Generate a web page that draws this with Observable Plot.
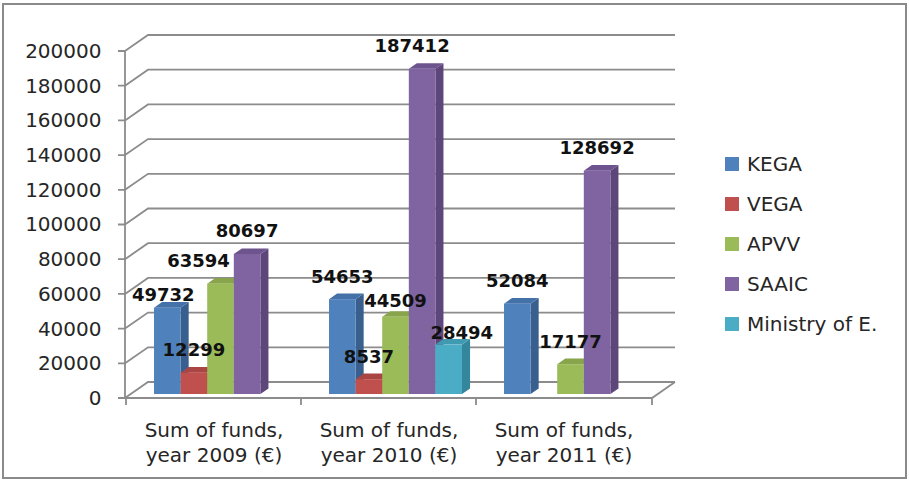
<!DOCTYPE html>
<html>
<head>
<meta charset="utf-8">
<script src="https://cdn.jsdelivr.net/npm/d3@7"></script>
<script src="https://cdn.jsdelivr.net/npm/@observablehq/plot@0.6"></script>
<style>
  body { margin: 0; background: #fff; }
  #chart { position: relative; width: 909px; height: 480px; font-family: "DejaVu Sans", sans-serif; }
  #chart svg { position: absolute; left: 0; top: 0; }
  #border { position: absolute; left: 2px; top: 3px; width: 905px; height: 476px; border: 2px solid #8a8a8a; box-sizing: border-box; pointer-events: none; }
  #legend { position: absolute; left: 725px; top: 144px; }
  .row { display: flex; align-items: center; height: 40px; font-size: 20px; color: #262626; white-space: nowrap; }
  .sw { width: 14px; height: 14px; margin-right: 8px; flex: none; }
</style>
</head>
<body>
<div id="chart"><div id="border"></div></div>
<script>
// Funding by source and year (€)
const categories = ["Sum of funds,\nyear 2009 (€)", "Sum of funds,\nyear 2010 (€)", "Sum of funds,\nyear 2011 (€)"];
const series = ["KEGA", "VEGA", "APVV", "SAAIC", "Ministry of E."];
const kega     = [49732, 54653, 52084];
const vega     = [12299, 8537, null];
const apvv     = [63594, 44509, 17177];
const saaic    = [80697, 187412, 128692];
const ministry = [null, 28494, null];
const yTicks = [0, 20000, 40000, 60000, 80000, 100000, 120000, 140000, 160000, 180000, 200000];

// Face shading for each series: front, side, top
const frontColors = ["#4f81bd", "#c0504d", "#9bbb59", "#8064a2", "#4bacc6"];
const sideColors  = ["#395f8e", "#933b39", "#789443", "#5d4679", "#33869c"];
const topColors   = ["#4472a8", "#a94542", "#88a54c", "#6d548e", "#3f9ab2"];

// Small nudges for value labels that the chart shifts to avoid overlaps
const labelNudge = { "49732": [-4, 10], "63594": [-22, 0], "44509": [0, 7], "187412": [-10, 0], "28494": [13, 11] };

const valuesBySeries = [kega, vega, apvv, saaic, ministry];
const rows = [];
categories.forEach((c, i) => {
  series.forEach((s, j) => {
    const v = valuesBySeries[j][i];
    if (v != null) rows.push({ category: c, series: s, value: v, k: j });
  });
});

// Oblique projection of the depth axis (pixels for the full depth of the floor)
const DEPTH = [23, -16];
const BAR_FRONT = 0.25, BAR_BACK = 0.6;

const innerBand = (x) =>
  d3.scaleBand(series, [0, x.bandwidth()]).paddingInner(0).paddingOuter(0.79).align(0.53);

// Back wall gridlines, side-wall diagonals, floor and axis ticks
const frame3d = Plot.ruleY(yTicks, {
  y: (d) => d,
  render(index, scales, values, dims) {
    const { x, y } = scales;
    const xl = dims.marginLeft, xr = dims.width - dims.marginRight;
    const [dx, dy] = DEPTH;
    const p = d3.path();
    for (const i of index) {
      const yy = y(yTicks[i]);
      p.moveTo(xl - 7, yy); p.lineTo(xl, yy);
      p.moveTo(xl, yy); p.lineTo(xl + dx, yy + dy); p.lineTo(xr + dx, yy + dy);
    }
    const y0 = y(0), yTop = y(yTicks[yTicks.length - 1]);
    p.moveTo(xl, yTop); p.lineTo(xl, y0);
    p.moveTo(xl, y0); p.lineTo(xr, y0); p.lineTo(xr + dx, y0 + dy);
    for (const c of categories) { const xb = x(c); p.moveTo(xb, y0); p.lineTo(xb, y0 + 7); }
    p.moveTo(xr, y0); p.lineTo(xr, y0 + 7);
    return d3.create("svg:path")
      .attr("d", p.toString())
      .attr("fill", "none")
      .attr("stroke", "#8c8c8c")
      .attr("stroke-width", 1.8)
      .node();
  }
});

// 3D columns: side and top faces first, then the front face
const bars3d = Plot.barY(rows, {
  x: "category", y1: 0, y2: "value",
  render(index, scales) {
    const { x, y } = scales;
    const inner = innerBand(x);
    const [dx, dy] = DEPTH;
    const ox = dx * BAR_FRONT, oy = dy * BAR_FRONT;
    const sx = dx * (BAR_BACK - BAR_FRONT), sy = dy * (BAR_BACK - BAR_FRONT);
    const g = d3.create("svg:g");
    const sorted = Array.from(index).sort((a, b) => (x(rows[a].category) + inner(rows[a].series)) - (x(rows[b].category) + inner(rows[b].series)));
    for (const i of sorted) {
      const d = rows[i];
      const x0 = x(d.category) + inner(d.series) + ox;
      const x1 = x0 + inner.bandwidth();
      const yb = y(0) + oy, yt = y(d.value) + oy;
      const poly = (pts) => "M" + pts.map((q) => q.join(",")).join("L") + "Z";
      g.append("path").attr("d", poly([[x1, yb], [x1, yt], [x1 + sx, yt + sy], [x1 + sx, yb + sy]])).attr("fill", sideColors[d.k]);
      g.append("path").attr("d", poly([[x0, yt], [x1, yt], [x1 + sx, yt + sy], [x0 + sx, yt + sy]])).attr("fill", topColors[d.k]);
      g.append("rect").attr("x", x0).attr("y", yt).attr("width", x1 - x0).attr("height", yb - yt).attr("fill", frontColors[d.k]);
    }
    return g.node();
  }
});

// Value labels above each column
const labels3d = Plot.text(rows, {
  x: "category", y: "value", text: (d) => String(d.value),
  render(index, scales) {
    const { x, y } = scales;
    const inner = innerBand(x);
    const [dx, dy] = DEPTH;
    const g = d3.create("svg:g")
      .attr("font-family", "DejaVu Sans, sans-serif")
      .attr("font-weight", "bold")
      .attr("font-size", 18)
      .attr("fill", "#111")
      .attr("text-anchor", "middle");
    for (const i of index) {
      const d = rows[i];
      const label = String(d.value);
      const [nx, ny] = labelNudge[label] || [0, 0];
      const cx = x(d.category) + inner(d.series) + dx * BAR_FRONT + inner.bandwidth() / 2;
      const cy = y(d.value) + dy * BAR_FRONT - 23;
      g.append("text").attr("x", cx + nx).attr("y", cy + ny).attr("dy", "0.36em").text(label);
    }
    return g.node();
  }
});

const plot = Plot.plot({
  width: 909,
  height: 480,
  marginLeft: 125,
  marginRight: 257,
  marginTop: 51,
  marginBottom: 82,
  style: { fontFamily: "DejaVu Sans, sans-serif", fontSize: "20px", color: "#262626", background: "transparent" },
  x: { domain: categories, padding: 0, label: null },
  y: { domain: [0, 200000], label: null },
  marks: [
    frame3d,
    Plot.axisY({ ticks: yTicks, tickSize: 0, tickPadding: 24, tickFormat: d3.format("d"), fontSize: 20, label: null }),
    Plot.axisX({ tickSize: 0, tickPadding: 21, lineHeight: 1.25, fontSize: 20, label: null }),
    bars3d,
    labels3d
  ]
});

const chart = document.getElementById("chart");
chart.insertBefore(plot, chart.firstChild);

// Legend
const legend = document.createElement("div");
legend.id = "legend";
series.forEach((s, j) => {
  const row = document.createElement("div");
  row.className = "row";
  const sw = document.createElement("span");
  sw.className = "sw";
  sw.style.background = frontColors[j];
  const t = document.createElement("span");
  t.textContent = s;
  row.append(sw, t);
  legend.append(row);
});
chart.append(legend);
</script>
</body>
</html>
